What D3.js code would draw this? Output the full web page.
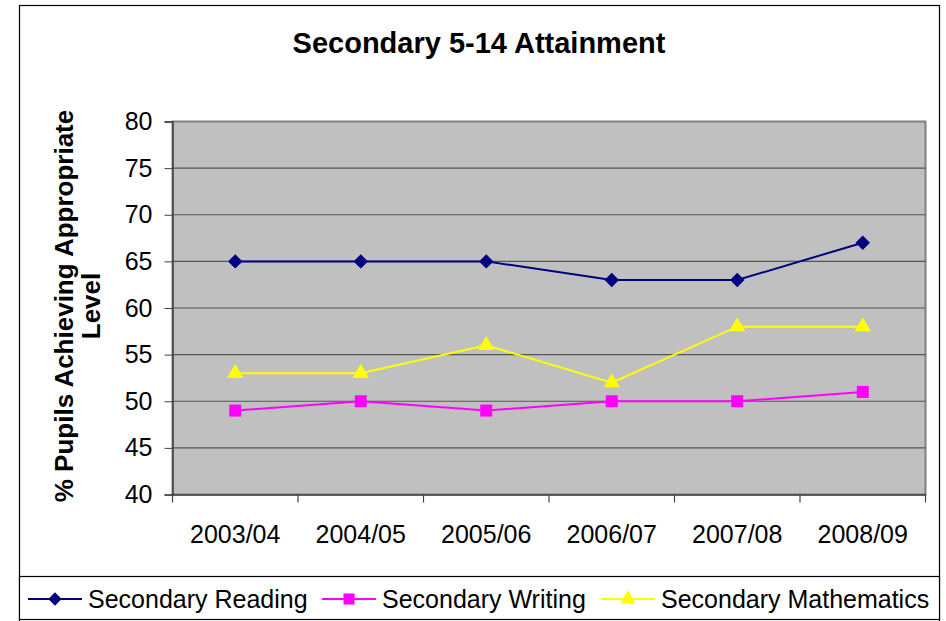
<!DOCTYPE html>
<html>
<head>
<meta charset="utf-8">
<script src="https://cdn.jsdelivr.net/npm/d3@7"></script>
<style>
  body { margin: 0; background: #fff; }
  text { font-family: "Liberation Sans", Arial, sans-serif; fill: #000; }
</style>
</head>
<body>
<svg width="946" height="621"></svg>
<script>
const years = ["2003/04", "2004/05", "2005/06", "2006/07", "2007/08", "2008/09"];
const reading = [65, 65, 65, 63, 63, 67];
const writing = [49, 50, 49, 50, 50, 51];
const maths = [53, 53, 56, 52, 58, 58];
const yTicks = [40, 45, 50, 55, 60, 65, 70, 75, 80];

// diamond = square turned 45 degrees
const series = [
  {name: "Secondary Reading", values: reading, color: "#000080", symbol: d3.symbolSquare, size: 105, rot: 45, legendX: 28},
  {name: "Secondary Writing", values: writing, color: "#FF00FF", symbol: d3.symbolSquare, size: 144, rot: 0, legendX: 322},
  {name: "Secondary Mathematics", values: maths, color: "#FFFF00", symbol: d3.symbolTriangle, size: 115, rot: 0, legendX: 601}
];

const svg = d3.select("svg");

// outer chart border
svg.append("rect")
    .attr("x", 19.5).attr("y", 5.5)
    .attr("width", 920).attr("height", 630)
    .attr("fill", "#fff").attr("stroke", "#000").attr("stroke-width", 1.2);

const plotL = 172.5, plotR = 925.5, plotT = 121.5, plotB = 494.5;

const x = d3.scaleBand().domain(years).range([plotL, plotR]);
const y = d3.scaleLinear().domain([40, 80]).range([plotB, plotT]);

svg.append("rect")
    .attr("x", plotL).attr("y", plotT)
    .attr("width", plotR - plotL).attr("height", plotB - plotT)
    .attr("fill", "#C0C0C0").attr("stroke", "#808080").attr("stroke-width", 2);

// gridlines
svg.append("g").selectAll("line")
    .data(yTicks.filter(t => t > 40 && t < 80))
    .enter().append("line")
    .attr("x1", plotL).attr("x2", plotR)
    .attr("y1", d => y(d)).attr("y2", d => y(d))
    .attr("stroke", "#555").attr("stroke-width", 1.2);

// y axis
const yAxis = svg.append("g")
    .attr("transform", `translate(${plotL},0)`)
    .call(d3.axisLeft(y).tickValues(yTicks).tickSize(8).tickPadding(12));
yAxis.select(".domain").attr("stroke", "#404040").attr("stroke-width", 1.5);
yAxis.selectAll(".tick line").attr("stroke", "#404040");
yAxis.selectAll("text").style("font-size", "25px").attr("fill", "#000")
    .style("font-family", "Liberation Sans, Arial, sans-serif");

// x axis
const xAxis = svg.append("g")
    .attr("transform", `translate(0,${plotB})`)
    .call(d3.axisBottom(x).tickSize(0).tickPadding(31));
xAxis.select(".domain").attr("stroke", "#404040").attr("stroke-width", 1.5);
xAxis.selectAll("text").style("font-size", "25px").attr("fill", "#000")
    .style("font-family", "Liberation Sans, Arial, sans-serif");
xAxis.append("g").selectAll("line")
    .data(years.concat(["end"]))
    .enter().append("line")
    .attr("x1", (d, i) => plotL + i * x.step()).attr("x2", (d, i) => plotL + i * x.step())
    .attr("y1", 0).attr("y2", 8)
    .attr("stroke", "#404040").attr("stroke-width", 1.2);

// title
svg.append("text")
    .attr("x", 479).attr("y", 53)
    .attr("text-anchor", "middle")
    .style("font-size", "29px").style("font-weight", "bold")
    .text("Secondary 5-14 Attainment");

// y axis title
const yt = svg.append("text")
    .attr("transform", "translate(73,306) rotate(-90)")
    .attr("text-anchor", "middle")
    .style("font-size", "26px").style("font-weight", "bold");
yt.append("tspan").attr("x", 0).attr("y", 0).text("% Pupils Achieving Appropriate");
yt.append("tspan").attr("x", 0).attr("y", 27).text("Level");

// lines and markers
const line = d3.line()
    .x((d, i) => x(years[i]) + x.bandwidth() / 2)
    .y(d => y(d));

series.forEach(s => {
  svg.append("path")
      .attr("d", line(s.values))
      .attr("fill", "none")
      .attr("stroke", s.color)
      .attr("stroke-width", 2);
  svg.append("g").selectAll("path")
      .data(s.values)
      .enter().append("path")
      .attr("d", d3.symbol().type(s.symbol).size(s.size))
      .attr("transform", (d, i) => `translate(${x(years[i]) + x.bandwidth() / 2},${y(d)}) rotate(${s.rot})`)
      .attr("fill", s.color);
});

// legend
svg.append("rect")
    .attr("x", 19.5).attr("y", 576.5)
    .attr("width", 920).attr("height", 43)
    .attr("fill", "#fff").attr("stroke", "#000").attr("stroke-width", 1.2);

const legend = svg.append("g").attr("transform", "translate(0,599)");
series.forEach(s => {
  legend.append("line")
      .attr("x1", s.legendX).attr("x2", s.legendX + 54)
      .attr("y1", 0).attr("y2", 0)
      .attr("stroke", s.color).attr("stroke-width", 2);
  legend.append("path")
      .attr("d", d3.symbol().type(s.symbol).size(s.size * 0.85))
      .attr("transform", `translate(${s.legendX + 27},0) rotate(${s.rot})`)
      .attr("fill", s.color);
  legend.append("text")
      .attr("x", s.legendX + 60).attr("y", 8.5)
      .style("font-size", "25px")
      .text(s.name);
});
</script>
</body>
</html>
